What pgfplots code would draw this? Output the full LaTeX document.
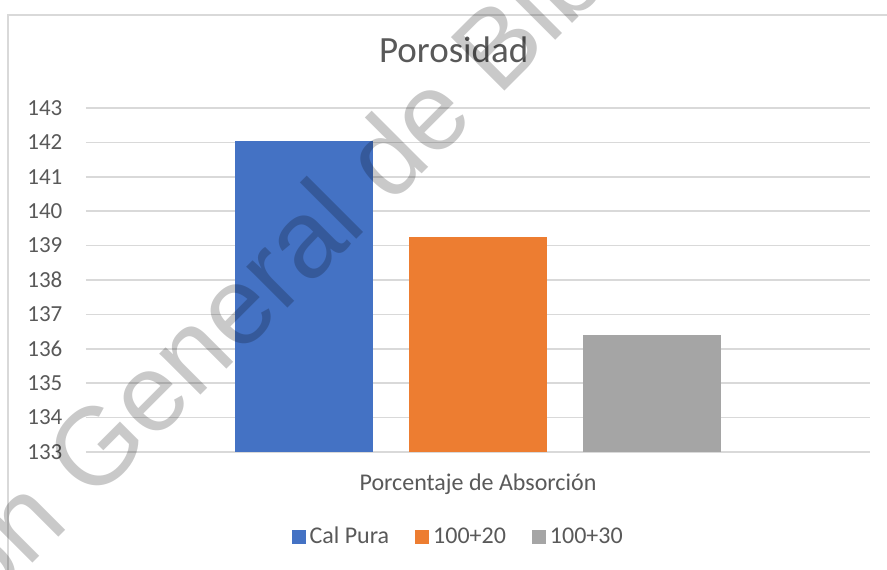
\documentclass[border=0pt]{standalone}
\usepackage{fontspec}
\setmainfont{Carlito}
\newfontfamily\wmfont{Liberation Sans}
\usepackage{pgfplots}
\pgfplotsset{compat=1.18}

\definecolor{calpura}{HTML}{4472C4}
\definecolor{cien20}{HTML}{ED7D31}
\definecolor{cien30}{HTML}{A5A5A5}
\definecolor{gridgray}{HTML}{D9D9D9}
\definecolor{txt}{HTML}{595959}

\begin{document}
\begin{tikzpicture}
% image is 887x569 px, 1 px = 0.5pt, origin at plot lower-left
\path[use as bounding box] (-43pt,-58.5pt) rectangle (400.5pt,226pt);
\draw[gridgray, line width=0.6pt] (-39pt,-70pt) rectangle (410pt,218.5pt);
\begin{axis}[
    at={(0,0)}, anchor=south west,
    scale only axis,
    width=392pt, height=172pt,
    ybar, bar width=0.793,
    xmin=-2.253, xmax=2.253,
    ymin=133, ymax=143,
    ytick={133,...,143},
    xtick={0},
    xticklabels={Porcentaje de Absorción},
    major tick length=0pt,
    axis line style={draw=none},
    ymajorgrids,
    grid style={gridgray, line width=0.75pt},
    /pgf/number format/assume math mode=true,
    tick label style={font=\fontsize{11.5}{13}\selectfont, text=txt},
    yticklabel style={xshift=-8.3pt},
    xticklabel style={anchor=base, yshift=-19pt, font=\fontsize{12}{14}\selectfont},
    title={Porosidad},
    title style={at={(0.469,1.097)}, anchor=base, font=\fontsize{18.5}{21}\selectfont, text=txt},
    legend columns=3,
    legend style={at={(0.476,-0.247)}, anchor=center, draw=none, fill=none,
        font=\fontsize{12}{14}\selectfont, text=txt,
        /tikz/every even column/.append style={column sep=11pt}},
    legend cell align=left,
    legend image code/.code={\fill[#1] (0pt,-3.5pt) rectangle (7pt,3.5pt);},
]
\addplot[fill=calpura, draw=none, bar shift=0pt] coordinates {(-1,142.04)};
\addplot[fill=cien20, draw=none, bar shift=0pt] coordinates {(0,139.25)};
\addplot[fill=cien30, draw=none, bar shift=0pt] coordinates {(1,136.40)};
\legend{Cal Pura, 100+20, 100+30}
\end{axis}
% watermark
\node[rotate=45, anchor=base west, text=black, text opacity=0.21, inner sep=0pt,
      font=\wmfont\fontsize{55}{60}\selectfont] at (3pt,-26pt)
      {\llap{Dirección }General de Bibliotecas};
\end{tikzpicture}
\end{document}
